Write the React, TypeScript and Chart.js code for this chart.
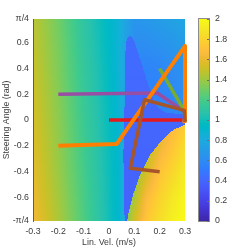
import React, { useEffect, useRef } from "react";
import { Chart, registerables } from "chart.js";
Chart.register(...registerables);

const Q = Math.PI / 4;

// ---- axis ticks ----
const xTicks = [-0.3, -0.2, -0.1, 0, 0.1, 0.2, 0.3];
const xTickLabels = ["-0.3", "-0.2", "-0.1", "0", "0.1", "0.2", "0.3"];
const yTicks = [-Q, -0.6, -0.4, -0.2, 0, 0.2, 0.4, 0.6, Q];
const yTickLabels = ["-π/4", "-0.6", "-0.4", "-0.2", "0", "0.2", "0.4", "0.6", "π/4"];
const cbTicks = [0, 0.2, 0.4, 0.6, 0.8, 1, 1.2, 1.4, 1.6, 1.8, 2];
const cbTickLabels = ["0", "0.2", "0.4", "0.6", "0.8", "1", "1.2", "1.4", "1.6", "1.8", "2"];

// ---- background cost field ----
const baseX = [-0.3, -0.2, -0.1, 0, 0.04, 0.065, 0.1, 0.15, 0.2, 0.25, 0.3];
const baseY = [-Q, -0.4, 0, 0.4, Q];
const baseGrid = [
  [1.63, 1.43, 1.22, 1.0, 0.9, 0.78, 0.6, 0.6, 0.6, 0.6, 0.6],
  [1.58, 1.39, 1.19, 0.99, 0.9, 0.78, 0.6, 0.6, 0.6, 0.6, 0.6],
  [1.54, 1.36, 1.16, 0.97, 0.88, 0.75, 0.55, 0.55, 0.55, 0.57, 0.6],
  [1.5, 1.33, 1.13, 0.95, 0.86, 0.74, 0.56, 0.55, 0.57, 0.6, 0.64],
  [1.47, 1.3, 1.1, 0.93, 0.86, 0.76, 0.66, 0.68, 0.71, 0.74, 0.78],
];

// low-cost (blue) spindle region
const spindleY = [-Q, -0.6, -0.3, 0, 0.04, 0.06, 0.1, 0.12, 0.2, 0.3, 0.4, 0.5, 0.6, 0.63, 0.66];
const spindleLeft = [0.062, 0.059, 0.057, 0.058, 0.06, 0.06, 0.061, 0.062, 0.063, 0.063, 0.063, 0.064, 0.067, 0.071, 0.083];
const spindleRight = [0.3, 0.3, 0.3, 0.3, 0.3, 0.22, 0.19, 0.18, 0.168, 0.15, 0.135, 0.118, 0.102, 0.095, 0.083];
const spindleVal = [0.38, 0.38, 0.39, 0.4, 0.4, 0.4, 0.4, 0.4, 0.41, 0.41, 0.42, 0.42, 0.43, 0.43, 0.43];

// high-cost (yellow) region: boundary and values
const yellowBY = [-Q, -0.74, -0.58, -0.43, -0.27, -0.155, -0.078, -0.035];
const yellowBX = [0.072, 0.075, 0.095, 0.122, 0.162, 0.21, 0.253, 0.3];
const yellowX = [0.05, 0.1, 0.15, 0.2, 0.25, 0.3];
const yellowY = [-Q, -0.6, -0.4, -0.2, 0];
const yellowGrid = [
  [1.25, 1.52, 1.74, 1.85, 1.94, 2.0],
  [1.25, 1.42, 1.67, 1.79, 1.89, 1.97],
  [1.25, 1.35, 1.53, 1.71, 1.81, 1.91],
  [1.25, 1.35, 1.45, 1.6, 1.72, 1.84],
  [1.25, 1.35, 1.45, 1.55, 1.64, 1.74],
];

// ---- trajectories ----
const purpleX = [-0.2, 0.19, 0.295];
const purpleY = [0.2, 0.21, 0.07];
const greenX = [0.2, 0.295];
const greenY = [0.4, 0.08];
const redX = [0, 0.29];
const redY = [0, 0];
const orangeX = [-0.2, 0.03, 0.3, 0.3, 0.29];
const orangeY = [-0.2, -0.187, 0.575, -0.01, -0.01];
const brownX = [0.2, 0.084, 0.14, 0.297, 0.3];
const brownY = [-0.402, -0.376, 0.157, 0.075, -0.015];

const PARULA = [
  [0.2422, 0.1504, 0.6603], [0.2504, 0.165, 0.7076], [0.2578, 0.1818, 0.7511], [0.2647, 0.1978, 0.7952],
  [0.2706, 0.2147, 0.8364], [0.2751, 0.2342, 0.871], [0.2783, 0.2559, 0.8991], [0.2803, 0.2782, 0.9221],
  [0.2813, 0.3006, 0.9414], [0.281, 0.3228, 0.9579], [0.2795, 0.3447, 0.9717], [0.276, 0.3667, 0.9829],
  [0.2699, 0.3892, 0.9906], [0.2602, 0.4123, 0.9952], [0.244, 0.4358, 0.9988], [0.2206, 0.4603, 0.9973],
  [0.1963, 0.4847, 0.9892], [0.1834, 0.5074, 0.9798], [0.1786, 0.5289, 0.9682], [0.1764, 0.5499, 0.952],
  [0.1687, 0.5703, 0.9359], [0.154, 0.5902, 0.9218], [0.146, 0.6091, 0.9079], [0.138, 0.6276, 0.8973],
  [0.1248, 0.6459, 0.8883], [0.1113, 0.6635, 0.8763], [0.0952, 0.6798, 0.8598], [0.0689, 0.6948, 0.8394],
  [0.0297, 0.7082, 0.8163], [0.0036, 0.7203, 0.7917], [0.0067, 0.7312, 0.766], [0.0433, 0.7411, 0.7394],
  [0.0964, 0.75, 0.712], [0.1408, 0.7584, 0.6842], [0.1717, 0.767, 0.6554], [0.1938, 0.7758, 0.6251],
  [0.2161, 0.7843, 0.5923], [0.247, 0.7918, 0.5567], [0.2906, 0.7973, 0.5188], [0.3406, 0.8008, 0.4789],
  [0.3909, 0.8029, 0.4354], [0.4456, 0.8024, 0.3909], [0.5044, 0.7993, 0.348], [0.5616, 0.7942, 0.3045],
  [0.6174, 0.7876, 0.2612], [0.672, 0.7793, 0.2227], [0.7242, 0.7698, 0.191], [0.7738, 0.7598, 0.1646],
  [0.8203, 0.7498, 0.1535], [0.8634, 0.7406, 0.1596], [0.9035, 0.733, 0.1774], [0.9393, 0.7288, 0.21],
  [0.9728, 0.7298, 0.2394], [0.9956, 0.7434, 0.2371], [0.997, 0.7659, 0.2199], [0.9952, 0.7893, 0.2028],
  [0.9892, 0.8136, 0.1885], [0.9786, 0.8386, 0.1766], [0.9676, 0.8639, 0.1643], [0.961, 0.889, 0.1537],
  [0.9597, 0.9135, 0.1423], [0.9628, 0.9373, 0.1265], [0.9691, 0.9606, 0.1064], [0.9769, 0.9839, 0.0805],
];

function parula(t: number): [number, number, number] {
  t = Math.max(0, Math.min(1, t));
  const f = t * 63;
  const i = Math.floor(f);
  const j = Math.min(63, i + 1);
  const w = f - i;
  const a = PARULA[i], b = PARULA[j];
  return [
    (a[0] + (b[0] - a[0]) * w) * 255,
    (a[1] + (b[1] - a[1]) * w) * 255,
    (a[2] + (b[2] - a[2]) * w) * 255,
  ];
}

function seg(nodes: number[], v: number): [number, number] {
  const n = nodes.length;
  if (v <= nodes[0]) return [0, 0];
  if (v >= nodes[n - 1]) return [n - 2, 1];
  let i = 0;
  while (v > nodes[i + 1]) i++;
  return [i, (v - nodes[i]) / (nodes[i + 1] - nodes[i])];
}
function lerp1(nodes: number[], vals: number[], v: number) {
  const [i, w] = seg(nodes, v);
  return vals[i] + (vals[i + 1] - vals[i]) * w;
}
function bilin(xs: number[], ys: number[], g: number[][], x: number, y: number) {
  const [i, wx] = seg(xs, x);
  const [j, wy] = seg(ys, y);
  const a = g[j][i] + (g[j][i + 1] - g[j][i]) * wx;
  const b = g[j + 1][i] + (g[j + 1][i + 1] - g[j + 1][i]) * wx;
  return a + (b - a) * wy;
}
function fieldAt(v: number, d: number) {
  if (d <= yellowBY[yellowBY.length - 1] && v >= lerp1(yellowBY, yellowBX, d)) {
    return bilin(yellowX, yellowY, yellowGrid, v, d);
  }
  if (
    d <= spindleY[spindleY.length - 1] &&
    v >= lerp1(spindleY, spindleLeft, d) &&
    v <= lerp1(spindleY, spindleRight, d)
  ) {
    return lerp1(spindleY, spindleVal, d);
  }
  return bilin(baseX, baseY, baseGrid, v, d);
}

const CMIN = 0, CMAX = 2;
const FONT = { family: "'Liberation Sans', Arial, sans-serif", size: 8.8 };
const TXT = "#3a3a3a";

const heatmapPlugin = {
  id: "heatmap",
  beforeDraw(chart: any) {
    const { ctx, chartArea } = chart;
    const xs = chart.scales.x, ys = chart.scales.y, cs = chart.scales.cb;
    const L = Math.round(chartArea.left), T = Math.round(chartArea.top);
    const W = Math.round(chartArea.right) - L, H = Math.round(chartArea.bottom) - T;
    const off = document.createElement("canvas");
    off.width = W; off.height = H;
    const octx = off.getContext("2d")!;
    const img = octx.createImageData(W, H);
    for (let j = 0; j < H; j++) {
      const d = ys.getValueForPixel(T + j + 0.5);
      for (let i = 0; i < W; i++) {
        const v = xs.getValueForPixel(L + i + 0.5);
        const val = fieldAt(v, d);
        const c = parula((val - CMIN) / (CMAX - CMIN));
        const k = (j * W + i) * 4;
        img.data[k] = c[0]; img.data[k + 1] = c[1]; img.data[k + 2] = c[2]; img.data[k + 3] = 255;
      }
    }
    octx.putImageData(img, 0, 0);
    ctx.save();
    ctx.drawImage(off, L, T);
    // colorbar
    const cbL = L + W + 14, cbW = 10;
    for (let j = 0; j < H; j++) {
      const val = cs.getValueForPixel(T + j + 0.5);
      const c = parula((val - CMIN) / (CMAX - CMIN));
      ctx.fillStyle = `rgb(${c[0] | 0},${c[1] | 0},${c[2] | 0})`;
      ctx.fillRect(cbL, T + j, cbW, 1);
    }
    ctx.strokeStyle = "#8c8c8c";
    ctx.lineWidth = 1;
    ctx.strokeRect(cbL - 0.5, T - 0.5, cbW + 1, H + 1);
    ctx.strokeStyle = "#6e6e6e";
    for (const t of cbTicks) {
      const py = Math.round(cs.getPixelForValue(t)) + 0.5;
      ctx.beginPath();
      ctx.moveTo(cbL + cbW, py);
      ctx.lineTo(cbL + cbW - 2, py);
      ctx.stroke();
    }
    ctx.restore();
  },
};

function pts(xa: number[], ya: number[]) {
  return xa.map((x, i) => ({ x, y: ya[i] }));
}

function lineDs(label: string, xa: number[], ya: number[], color: string, order: number, w = 3.5) {
  return {
    label,
    data: pts(xa, ya),
    borderColor: color,
    backgroundColor: color,
    borderWidth: w,
    pointRadius: 0,
    pointHoverRadius: 0,
    tension: 0,
    fill: false,
    clip: false as any,
    order,
    borderJoinStyle: "round" as const,
    borderCapStyle: "butt" as const,
  };
}

export default function App() {
  const ref = useRef<HTMLCanvasElement>(null);
  useEffect(() => {
    if (!ref.current) return;
    const chart = new Chart(ref.current, {
      type: "line",
      data: {
        datasets: [
          lineDs("purple", purpleX, purpleY, "#984ea3", 5),
          lineDs("green", greenX, greenY, "#77ac30", 4),
          lineDs("red", redX, redY, "#e41a1c", 3),
          lineDs("orange", orangeX, orangeY, "#ff7f00", 2, 4),
          lineDs("brown", brownX, brownY, "#a65628", 1),
        ] as any,
      },
      options: {
        animation: false,
        responsive: false,
        events: [],
        layout: { padding: { top: 19, left: 0, right: 0, bottom: 0 }, autoPadding: false },
        plugins: { legend: { display: false }, tooltip: { enabled: false } },
        scales: {
          x: {
            type: "linear",
            min: -0.3,
            max: 0.3,
            afterBuildTicks: (s: any) => { s.ticks = xTicks.map((v) => ({ value: v })); },
            afterFit: (s: any) => { s.height = 28; },
            ticks: { callback: (_v: any, i: number) => xTickLabels[i], padding: 5, color: TXT, font: FONT, maxRotation: 0, autoSkip: false },
            grid: { display: false, drawTicks: false },
            border: { display: false },
            title: { display: true, text: "Lin. Vel. (m/s)", color: TXT, font: FONT, padding: { top: 0, bottom: 1 } },
          },
          y: {
            type: "linear",
            min: -Q,
            max: Q,
            afterBuildTicks: (s: any) => { s.ticks = yTicks.map((v) => ({ value: v })); },
            afterFit: (s: any) => { s.width = 33; },
            ticks: { callback: (_v: any, i: number) => yTickLabels[i], padding: 4, color: TXT, font: FONT, autoSkip: false },
            grid: { display: false, drawTicks: false },
            border: { display: true, color: "rgba(60,60,60,0.75)", width: 1 },
            title: { display: true, text: "Steering Angle (rad)", color: TXT, font: FONT, padding: { top: 1.5, bottom: 0 } },
          },
          cb: {
            type: "linear",
            position: "right",
            min: CMIN,
            max: CMAX,
            afterBuildTicks: (s: any) => { s.ticks = cbTicks.map((v) => ({ value: v })); },
            afterFit: (s: any) => { s.width = 64; },
            ticks: { callback: (_v: any, i: number) => cbTickLabels[i], padding: 0, color: TXT, font: FONT, autoSkip: false },
            grid: { display: false, drawTicks: true, tickLength: 30 },
            border: { display: false },
          },
        } as any,
      },
      plugins: [heatmapPlugin],
    });
    return () => chart.destroy();
  }, []);
  return (
    <div style={{ position: "fixed", left: 0, top: 0, width: 249, height: 249, background: "#fff" }}>
      <canvas ref={ref} width={249} height={249} style={{ display: "block" }} />
    </div>
  );
}
